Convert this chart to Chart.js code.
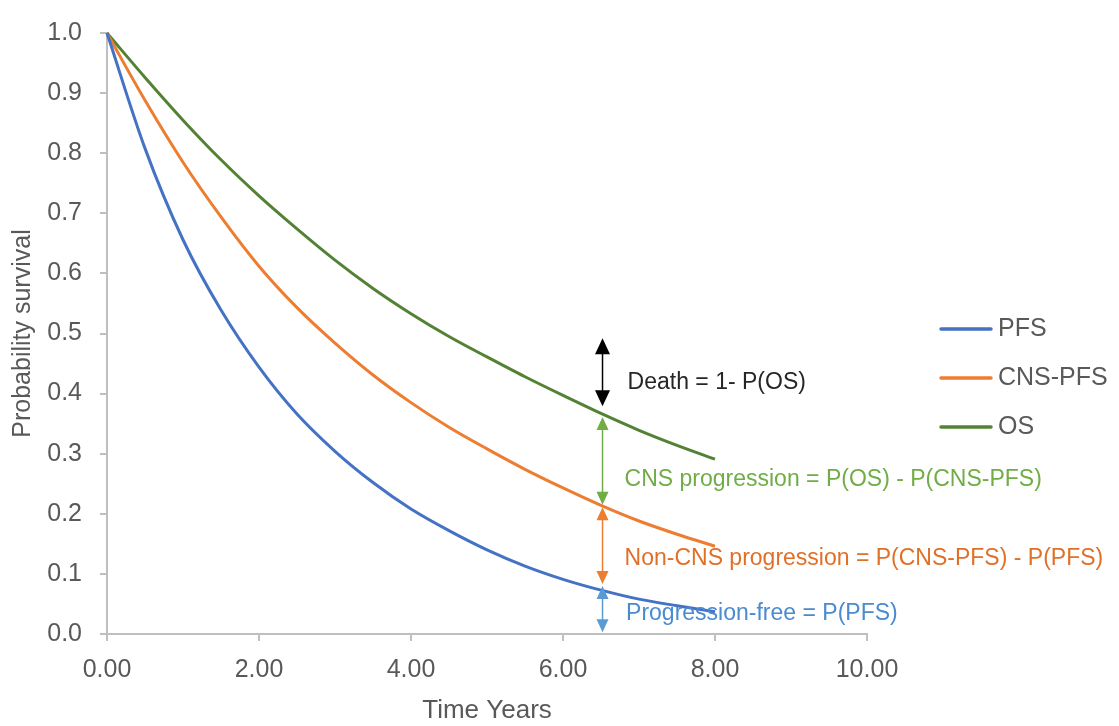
<!DOCTYPE html>
<html>
<head>
<meta charset="utf-8">
<script src="https://cdn.jsdelivr.net/npm/chart.js@4"></script>
<style>
  body { margin: 0; background: #fff; }
  #box { width: 1119px; height: 726px; }
</style>
</head>
<body>
<div id="box"><canvas id="grafico"></canvas></div>
<script>

// dados (anos, probabilidade)
var anos = [0, 0.5, 1, 1.5, 2, 2.5, 3, 3.5, 4, 4.5, 5, 5.5, 6, 6.5, 7, 7.5, 8];
var pfs = [1.0, 0.808, 0.656, 0.539, 0.444, 0.366, 0.304, 0.252, 0.208, 0.172, 0.140, 0.113, 0.091, 0.073, 0.058, 0.047, 0.037];
var cnsPfs = [1.0, 0.888, 0.785, 0.694, 0.612, 0.543, 0.484, 0.431, 0.385, 0.344, 0.308, 0.274, 0.243, 0.214, 0.188, 0.166, 0.146];
var os = [1.0, 0.926, 0.855, 0.789, 0.729, 0.674, 0.622, 0.575, 0.533, 0.495, 0.461, 0.428, 0.397, 0.367, 0.339, 0.314, 0.291];

var nomes = ["PFS", "CNS-PFS", "OS"];
var cores = ["#4472C4", "#ED7D31", "#548235"];

// setas e textos das anotacoes, no ano 6.5
var anoSeta = 6.52;
var setas = [
    { de: 0.492, ate: 0.379, cor: "#000000", larg: 15 },
    { de: 0.361, ate: 0.215, cor: "#70AD47", larg: 12 },
    { de: 0.211, ate: 0.083, cor: "#ED7D31", larg: 12 },
    { de: 0.080, ate: 0.003, cor: "#5B9BD5", larg: 12 }
];
var textos = [
    { t: "Death = 1- P(OS)", x: 6.85, y: 0.418, cor: "#262626" },
    { t: "CNS progression = P(OS) - P(CNS-PFS)", x: 6.81, y: 0.257, cor: "#70AD47" },
    { t: "Non-CNS progression = P(CNS-PFS) - P(PFS)", x: 6.81, y: 0.126, cor: "#E07028" },
    { t: "Progression-free = P(PFS)", x: 6.83, y: 0.034, cor: "#4A8AD0" }
];

var fonte = '"Liberation Sans", Arial, sans-serif';

function serie(valores){
    return anos.map(function(a, i){ return { x: a, y: valores[i] }; });
}

function desenhaSeta(ctx, x, y1, y2, cor, larg){
    var alt = larg + 1;
    ctx.strokeStyle = cor;
    ctx.fillStyle = cor;
    ctx.lineWidth = 1.5;
    ctx.beginPath();
    ctx.moveTo(x, y1 + alt - 2);
    ctx.lineTo(x, y2 - alt + 2);
    ctx.stroke();

    ctx.beginPath();
    ctx.moveTo(x, y1);
    ctx.lineTo(x - larg / 2, y1 + alt);
    ctx.lineTo(x + larg / 2, y1 + alt);
    ctx.closePath();
    ctx.fill();

    ctx.beginPath();
    ctx.moveTo(x, y2);
    ctx.lineTo(x - larg / 2, y2 - alt);
    ctx.lineTo(x + larg / 2, y2 - alt);
    ctx.closePath();
    ctx.fill();
}

var anotacoes = {
    id: "anotacoes",
    afterDatasetsDraw: function(chart){
        var ctx = chart.ctx;
        var sx = chart.scales.x;
        var sy = chart.scales.y;
        ctx.save();

        var xs = sx.getPixelForValue(anoSeta);
        setas.forEach(function(s){
            desenhaSeta(ctx, xs, sy.getPixelForValue(s.de), sy.getPixelForValue(s.ate), s.cor, s.larg);
        });

        ctx.font = "23px " + fonte;
        ctx.textAlign = "left";
        ctx.textBaseline = "middle";
        textos.forEach(function(t){
            ctx.fillStyle = t.cor;
            ctx.fillText(t.t, sx.getPixelForValue(t.x), sy.getPixelForValue(t.y));
        });

        // legenda
        ctx.font = "25px " + fonte;
        chart.data.datasets.forEach(function(d, i){
            var y = 329 + i * 49;
            ctx.strokeStyle = d.borderColor;
            ctx.lineWidth = 3.5;
            ctx.lineCap = "round";
            ctx.beginPath();
            ctx.moveTo(941, y);
            ctx.lineTo(991, y);
            ctx.stroke();
            ctx.fillStyle = "#595959";
            ctx.fillText(d.label, 998, y);
        });

        ctx.restore();
    }
};

const ctx = document.getElementById("grafico");

new Chart(ctx, {
    type: "line",
    data: {
        datasets: [
            { label: nomes[0], data: serie(pfs), borderColor: cores[0] },
            { label: nomes[1], data: serie(cnsPfs), borderColor: cores[1] },
            { label: nomes[2], data: serie(os), borderColor: cores[2] }
        ]
    },
    options: {
        responsive: true,
        maintainAspectRatio: false,
        animation: false,
        layout: { padding: { top: 24, right: 252, left: 0, bottom: 0 } },
        elements: {
            point: { radius: 0 },
            line: { borderWidth: 3, cubicInterpolationMode: "monotone", capBezierPoints: true }
        },
        datasets: { line: { clip: false } },
        plugins: {
            legend: { display: false },
            tooltip: { enabled: false }
        },
        scales: {
            x: {
                type: "linear",
                min: 0,
                max: 10,
                afterFit: function(s){ s.height = 92; },
                ticks: {
                    stepSize: 2,
                    padding: 14,
                    color: "#595959",
                    font: { family: fonte, size: 25 },
                    maxRotation: 0,
                    callback: function(v){ return v.toFixed(2); }
                },
                grid: { drawOnChartArea: false, tickLength: 7, color: "#BFBFBF", lineWidth: 2 },
                border: { color: "#BFBFBF", width: 2 },
                title: {
                    display: true,
                    text: "Time Years",
                    color: "#595959",
                    font: { family: fonte, size: 26 },
                    padding: 0
                }
            },
            y: {
                min: 0,
                max: 1,
                afterFit: function(s){ s.width = 107; },
                ticks: {
                    stepSize: 0.1,
                    padding: 18,
                    color: "#595959",
                    font: { family: fonte, size: 25 },
                    callback: function(v){ return v.toFixed(1); }
                },
                grid: { drawOnChartArea: false, tickLength: 7, color: "#BFBFBF", lineWidth: 2 },
                border: { color: "#BFBFBF", width: 2 },
                title: {
                    display: true,
                    text: "Probability survival",
                    color: "#595959",
                    font: { family: fonte, size: 25 },
                    padding: 8
                }
            }
        }
    },
    plugins: [anotacoes]
});

</script>
</body>
</html>
